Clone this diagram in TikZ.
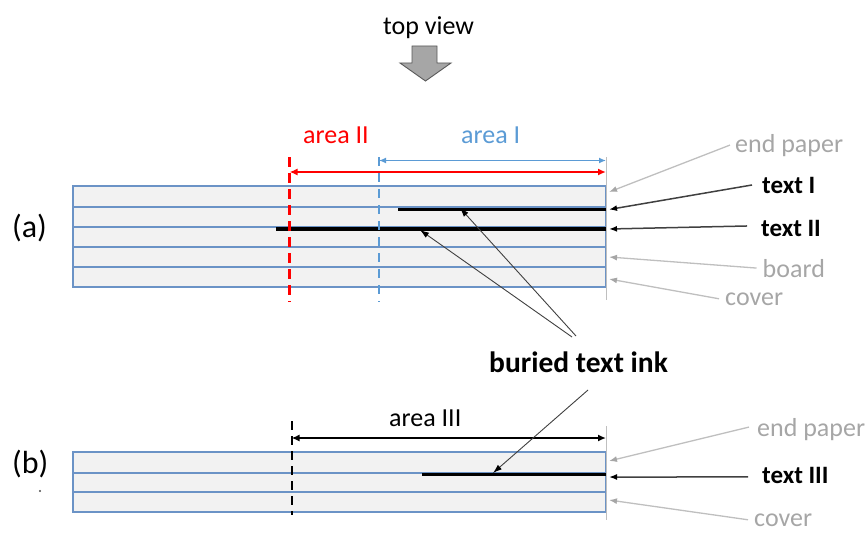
\documentclass[tikz,border=0pt]{standalone}
\usepackage{fontspec}
\setmainfont{Carlito}
\usetikzlibrary{arrows.meta}
\definecolor{rowblue}{HTML}{6B93C6}
\definecolor{rowfill}{HTML}{F2F2F2}
\definecolor{areablue}{HTML}{5B9BD5}
\definecolor{labgray}{HTML}{A6A6A6}
\definecolor{linegray}{HTML}{BFBFBF}
\definecolor{inkline}{HTML}{404040}
\definecolor{bigarrow}{HTML}{A6A6A6}
\begin{document}
\begin{tikzpicture}[x=1pt,y=-1pt,
  txt/.style={inner sep=0pt, anchor=base west, font=\fontsize{26}{30}\selectfont},
  boldtxt/.style={inner sep=0pt, anchor=base west, font=\fontsize{25}{30}\selectfont\bfseries},
  graytxt/.style={txt, text=labgray},
  rowbox/.style={draw=rowblue, fill=rowfill, line width=1.7pt},
  ink/.style={line width=3.4pt, black},
  edgeline/.style={draw=linegray, line width=1.2pt},
  grayptr/.style={draw=linegray, line width=1.3pt, -{Latex[length=8pt,width=6pt,color=labgray]}},
  blackptr/.style={draw=inkline, line width=1.5pt, -{Latex[length=8pt,width=6pt,color=black]}},
  inkptr/.style={draw=inkline, line width=0.9pt, -{Latex[length=9pt,width=6pt,color=black]}},
  dimarrow/.style={{Latex[length=8pt,width=7pt]}-{Latex[length=8pt,width=7pt]}}
]
\useasboundingbox (0,0) rectangle (866,532);

% top view
\node[txt] (topview) at (383,35) {top view};
\draw[fill=bigarrow, draw=black!65, line width=0.9pt] (412,46) -- (437,46) -- (437,63) -- (451,63) -- (425.5,81) -- (400,63) -- (412,63) -- cycle;

% ---------- (a) ----------
\node[inner sep=0pt, anchor=base west, font=\fontsize{32}{36}\selectfont] (la) at (12,237) {(a)};
\foreach \t/\b in {186/206.7, 206.7/227.3, 227.3/247.3, 247.3/267.3, 267.3/286.7}
  \draw[rowbox] (73,\t) rectangle (606,\b);
\draw[ink] (398,209.5) -- (606,209.5);
\draw[ink] (276,229) -- (606,229);
\draw[edgeline] (606.5,157) -- (606.5,300);

\draw[red, line width=2.8pt, dash pattern=on 10pt off 6pt] (289.5,157) -- (289.5,302);
\draw[areablue, line width=2pt, dash pattern=on 9pt off 7pt] (379,157) -- (379,302);
\draw[areablue, line width=1.6pt, {Latex[length=7pt,width=6pt]}-{Latex[length=7pt,width=6pt]}] (379,160.5) -- (606,160.5);
\draw[red, line width=2.8pt, dimarrow] (289.5,172) -- (606,172);
\node[txt, text=red] (a2) at (303,143) {area II};
\node[txt, text=areablue] (a1) at (461,143) {area I};

\node[graytxt] (epa) at (735,152) {end paper};
\node[boldtxt] (t1) at (762,193) {text I};
\node[boldtxt] (t2) at (761,236) {text II};
\node[graytxt] (bd) at (762.5,277) {board};
\node[graytxt] (cva) at (725,305) {cover};

\coordinate (epaT) at (609,192);
\coordinate (t1T) at (609,209.5);
\coordinate (t2T) at (609,229);
\coordinate (bdT) at (609,257);
\coordinate (cvaT) at (609,279);
\draw[grayptr] ([xshift=-5pt]epa.west) -- (epaT);
\draw[blackptr] ([xshift=-10pt]t1.west) -- (t1T);
\draw[blackptr] ([xshift=-14pt,yshift=2pt]t2.west) -- (t2T);
\draw[grayptr] ([xshift=-6pt]bd.west) -- (bdT);
\draw[grayptr] ([xshift=-6pt]cva.west) -- (cvaT);

% ---------- (b) ----------
\node[inner sep=0pt, anchor=base west, font=\fontsize{32}{36}\selectfont] (lb) at (12,473) {(b)};
\fill[black!70] (40,491) circle (1.1pt);
\foreach \t/\b in {452.3/472.7, 472.7/492.3, 492.3/511.7}
  \draw[rowbox] (73,\t) rectangle (606,\b);
\draw[ink] (422,474.5) -- (606,474.5);
\draw[edgeline] (606.5,426) -- (606.5,520);
\draw[black, line width=2pt, dash pattern=on 9pt off 6pt] (291.5,421) -- (291.5,515);
\draw[black, line width=2pt, dimarrow] (291.5,438) -- (606,438);
\node[txt] (a3) at (389,426) {area III};

\node[graytxt] (epb) at (757,436) {end paper};
\node[boldtxt] (t3) at (762,483) {text III};
\node[graytxt] (cvb) at (754,526) {cover};
\coordinate (epbT) at (609,461);
\coordinate (t3T) at (609,477);
\coordinate (cvbT) at (609,500);
\draw[grayptr] ([xshift=-8pt,yshift=2pt]epb.west) -- (epbT);
\draw[blackptr] ([xshift=-14pt,yshift=-2pt]t3.west) -- (t3T);
\draw[grayptr] ([xshift=-6pt]cvb.west) -- (cvbT);

% buried text ink
\node[inner sep=0pt, anchor=base west, font=\fontsize{29.5}{34}\selectfont\bfseries] (bti) at (489,372) {buried text ink};
\coordinate (bs1) at (576,336);
\coordinate (bs2) at (572,337);
\coordinate (bs3) at (588,390);
\coordinate (ink1) at (460,208);
\coordinate (ink2) at (420,230);
\coordinate (ink3) at (493,473);
\draw[inkptr] (bs1) -- (ink1);
\draw[inkptr] (bs2) -- (ink2);
\draw[inkptr] (bs3) -- (ink3);
\end{tikzpicture}
\end{document}
